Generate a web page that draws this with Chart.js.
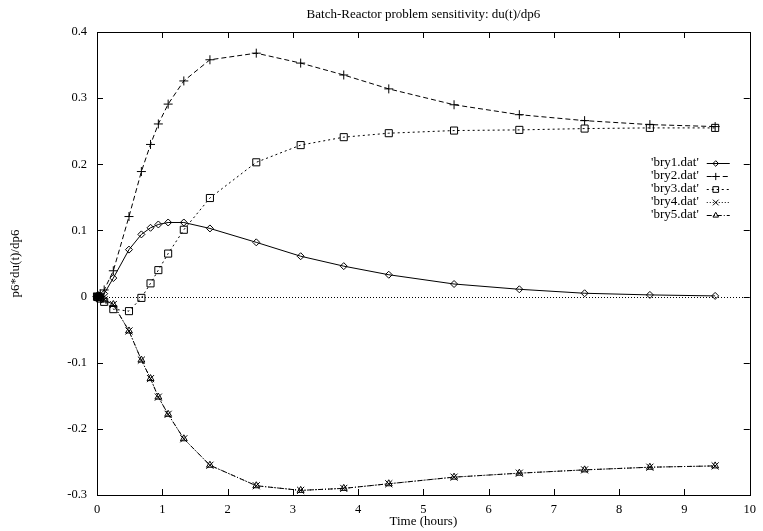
<!DOCTYPE html>
<html>
<head>
<meta charset="utf-8">
<script src="https://cdn.jsdelivr.net/npm/chart.js@4"></script>
<style>
  html, body { margin: 0; padding: 0; background: #fff; }
  #wrap { width: 763px; height: 531px; }
</style>
</head>
<body>
<div id="wrap"><canvas id="myChart" width="763" height="531"></canvas></div>
<script>
// time points (hours) shared by all files
const times = [0, 0.01, 0.02, 0.05, 0.11, 0.25, 0.49, 0.68, 0.82, 0.94, 1.09, 1.33, 1.73, 2.44, 3.12, 3.78, 4.47, 5.47, 6.47, 7.47, 8.47, 9.47];
const bry1 = [0, 0.0004, 0.0008, 0.002, 0.0044, 0.028, 0.071, 0.094, 0.104, 0.109, 0.112, 0.112, 0.103, 0.082, 0.061, 0.046, 0.033, 0.019, 0.011, 0.005, 0.0025, 0.001];
const bry2 = [0, 0.0005, 0.001, 0.004, 0.010, 0.039, 0.121, 0.189, 0.230, 0.261, 0.291, 0.326, 0.358, 0.368, 0.353, 0.335, 0.314, 0.290, 0.275, 0.266, 0.260, 0.257];
const bry3 = [0, -0.0005, -0.001, -0.003, -0.008, -0.019, -0.022, -0.002, 0.020, 0.040, 0.065, 0.101, 0.149, 0.203, 0.229, 0.241, 0.247, 0.251, 0.252, 0.254, 0.255, 0.255];
const bry4 = [0, -0.0003, -0.0008, -0.002, -0.005, -0.012, -0.052, -0.096, -0.124, -0.152, -0.178, -0.215, -0.255, -0.286, -0.293, -0.290, -0.283, -0.273, -0.267, -0.262, -0.258, -0.256];
const bry5 = [0, -0.0003, -0.0008, -0.002, -0.005, -0.012, -0.052, -0.096, -0.124, -0.152, -0.178, -0.215, -0.255, -0.286, -0.293, -0.290, -0.283, -0.273, -0.267, -0.262, -0.258, -0.256];

const xTicks = [0, 1, 2, 3, 4, 5, 6, 7, 8, 9, 10];
const yTicks = [-0.3, -0.2, -0.1, 0, 0.1, 0.2, 0.3, 0.4];

const FONT = "'Liberation Serif', 'DejaVu Serif', serif";

function pts(ys) {
    return times.map((t, i) => ({x: t, y: ys[i]}));
}

function series(label, ys, style, radius, dash) {
    return {
        label: label,
        data: pts(ys),
        borderColor: '#000',
        backgroundColor: 'rgba(0,0,0,0)',
        borderWidth: 1,
        borderDash: dash,
        pointStyle: style,
        pointRadius: radius,
        pointBorderColor: '#000',
        pointBackgroundColor: 'rgba(0,0,0,0)',
        pointBorderWidth: 1,
        tension: 0,
        fill: false,
        clip: false
    };
}

// gnuplot-ish frame, inward ticks, zero axis, titles and key
const gnuplotLook = {
    id: 'gnuplotLook',
    beforeDatasetsDraw(chart) {
        const c = chart.ctx, a = chart.chartArea;
        const y0 = chart.scales.y.getPixelForValue(0);
        c.save();
        c.strokeStyle = '#000';
        c.lineWidth = 1;
        c.setLineDash([1, 2]);
        c.beginPath();
        c.moveTo(a.left, Math.round(y0) + 0.5);
        c.lineTo(a.right, Math.round(y0) + 0.5);
        c.stroke();
        c.restore();
    },
    afterDraw(chart) {
        const c = chart.ctx, a = chart.chartArea;
        const xs = chart.scales.x, ys = chart.scales.y;
        const tl = 6;
        c.save();
        c.strokeStyle = '#000';
        c.lineWidth = 1;
        c.setLineDash([]);
        c.strokeRect(Math.round(a.left) + 0.5, Math.round(a.top) + 0.5,
            Math.round(a.right - a.left), Math.round(a.bottom - a.top));
        c.beginPath();
        xTicks.forEach(v => {
            const px = Math.round(xs.getPixelForValue(v)) + 0.5;
            c.moveTo(px, a.bottom); c.lineTo(px, a.bottom - tl);
            c.moveTo(px, a.top); c.lineTo(px, a.top + tl);
        });
        yTicks.forEach(v => {
            const py = Math.round(ys.getPixelForValue(v)) + 0.5;
            c.moveTo(a.left, py); c.lineTo(a.left + tl, py);
            c.moveTo(a.right, py); c.lineTo(a.right - tl, py);
        });
        c.stroke();

        c.fillStyle = '#000';
        c.font = '13px ' + FONT;
        c.textAlign = 'center';
        c.textBaseline = 'middle';
        c.fillText('Batch-Reactor problem sensitivity: du(t)/dp6', (a.left + a.right) / 2, 15);
        c.fillText('Time (hours)', (a.left + a.right) / 2, 522);
        c.save();
        c.translate(16, (a.top + a.bottom) / 2);
        c.rotate(-Math.PI / 2);
        c.fillText('p6*du(t)/dp6', 0, 0);
        c.restore();

        // key
        chart.data.datasets.forEach((ds, i) => {
            const ky = a.top + 131 + i * 13;
            c.textAlign = 'right';
            c.fillStyle = '#000';
            c.fillText("'" + ds.label + "'", a.right - 51, ky);
            c.setLineDash(ds.borderDash);
            c.beginPath();
            c.moveTo(a.right - 43, ky + 0.5);
            c.lineTo(a.right - 20, ky + 0.5);
            c.stroke();
            c.setLineDash([]);
            c.fillStyle = 'rgba(0,0,0,0)';
            Chart.helpers.drawPoint(c, {
                pointStyle: ds.pointStyle, radius: ds.pointRadius * 0.8,
                rotation: 0, borderWidth: 1
            }, a.right - 34, ky + 0.5);
        });
        c.restore();
    }
};

const ctx = document.getElementById("myChart").getContext("2d");
let myChart = new Chart(ctx, {
    type: 'line',
    data: {
        datasets: [
            series('bry1.dat', bry1, 'rectRot', 3.5, []),
            series('bry2.dat', bry2, 'cross', 4.5, [5, 3]),
            series('bry3.dat', bry3, 'rect', 5, [2, 3]),
            series('bry4.dat', bry4, 'crossRot', 5, [1, 2]),
            series('bry5.dat', bry5, 'triangle', 4, [5, 2, 1, 2])
        ]
    },
    options: {
        responsive: false,
        animation: false,
        events: [],
        layout: { padding: { top: 32, right: 8, left: 0, bottom: 0 } },
        plugins: {
            legend: { display: false },
            title: { display: false },
            tooltip: { enabled: false }
        },
        scales: {
            x: {
                type: 'linear',
                min: 0, max: 10,
                afterFit(scale) { scale.height = 36; },
                afterBuildTicks(scale) { scale.ticks = xTicks.map(v => ({value: v})); },
                grid: { display: false, drawTicks: false },
                border: { display: false },
                ticks: { color: '#000', font: { family: FONT, size: 12.5 }, padding: 7, maxRotation: 0 }
            },
            y: {
                type: 'linear',
                min: -0.3, max: 0.4,
                afterFit(scale) { scale.width = 97; },
                afterBuildTicks(scale) { scale.ticks = yTicks.map(v => ({value: v})); },
                grid: { display: false, drawTicks: false },
                border: { display: false },
                ticks: {
                    color: '#000', font: { family: FONT, size: 12.5 }, padding: 10,
                    callback: v => String(+v.toFixed(1))
                }
            }
        }
    },
    plugins: [gnuplotLook]
});
</script>
</body>
</html>
